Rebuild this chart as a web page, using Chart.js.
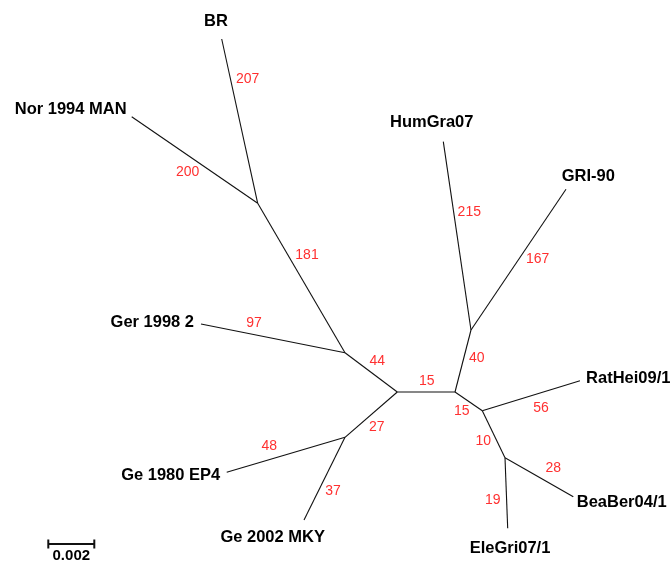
<!DOCTYPE html>
<html>
<head>
<meta charset="utf-8">
<script src="https://cdn.jsdelivr.net/npm/chart.js@4"></script>
<style>
  body { margin: 0; background: #fff; }
  canvas { display: block; }
</style>
</head>
<body>
<canvas id="arvore" width="670" height="565"></canvas>
<script>
// nodes of the unrooted tree (tips first, then internal nodes n1..n8)
let nos = ["BR", "Nor 1994 MAN", "Ger 1998 2", "Ge 1980 EP4", "Ge 2002 MKY",
           "HumGra07", "GRI-90", "RatHei09/1", "BeaBer04/1", "EleGri07/1",
           "n1", "n2", "n3", "n4", "n5", "n6", "n7", "n8"];
let noX = [221.7, 131.7, 201, 226.7, 304, 443.3, 566, 580, 573.3, 507.7,
           257.7, 345, 397.3, 455, 345, 471, 482.3, 505];
let noY = [39, 116.7, 324, 472.3, 520, 141.7, 189.3, 380.7, 496.7, 528.3,
           203.3, 352.7, 392, 392, 437.3, 330, 410.7, 457.7];

// branches and their support values
let ramoDe   = ["n1", "n1", "n1", "n2", "n2", "n3", "n3", "n5", "n5", "n4", "n6", "n6", "n4", "n7", "n7", "n8", "n8"];
let ramoPara = ["BR", "Nor 1994 MAN", "n2", "Ger 1998 2", "n3", "n4", "n5", "Ge 1980 EP4", "Ge 2002 MKY",
                "n6", "HumGra07", "GRI-90", "n7", "RatHei09/1", "n8", "BeaBer04/1", "EleGri07/1"];
let suporte  = [207, 200, 181, 97, 44, 15, 27, 48, 37, 40, 215, 167, 15, 56, 10, 28, 19];

// scale bar: 0.002 substitutions = 46 units
let escalaTexto = "0.002";
let escalaTam = 46;

// where the texts sit (layout only)
let posTaxon = [[216, 20], [70.7, 108.3], [152.3, 321.7], [170.7, 474.3], [272.7, 536],
                [431.7, 121.7], [588.3, 175], [628.3, 377.3], [621.7, 501.7], [510, 547.7]];
let posSuporte = [[247.7, 79.3], [187.7, 171.7], [307, 255], [254, 322.7], [377.3, 360.7],
                  [426.7, 380.7], [376.7, 426.7], [269.3, 446], [333, 491], [476.7, 358.3],
                  [469.3, 212.3], [537.7, 259.3], [461.7, 411], [541, 407.7], [483.3, 440.7],
                  [553.3, 468.3], [492.7, 500]];
let escalaX = 48.3, escalaY = 544;

function ponto(nome) {
    let i = nos.indexOf(nome);
    return { x: noX[i], y: noY[i] };
}

let datasets = [];
for (let i = 0; i < ramoDe.length; i++) {
    datasets.push({
        data: [ponto(ramoDe[i]), ponto(ramoPara[i])],
        showLine: true,
        borderColor: "#111",
        borderWidth: 1.1,
        pointRadius: 0
    });
}
// scale bar with its end ticks
datasets.push({
    data: [{ x: escalaX, y: escalaY }, { x: escalaX + escalaTam, y: escalaY }],
    showLine: true, borderColor: "#111", borderWidth: 2, pointRadius: 0
});
[escalaX, escalaX + escalaTam].forEach(function (x) {
    datasets.push({
        data: [{ x: x, y: escalaY - 4.5 }, { x: x, y: escalaY + 4.5 }],
        showLine: true, borderColor: "#111", borderWidth: 2, pointRadius: 0
    });
});

const rotulos = {
    id: "rotulos",
    afterDatasetsDraw(chart) {
        const ctx = chart.ctx;
        const sx = chart.scales.x, sy = chart.scales.y;
        ctx.save();
        ctx.textAlign = "center";
        ctx.textBaseline = "middle";
        ctx.fillStyle = "#000";
        ctx.font = "bold 16.5px 'Liberation Sans', Arial, sans-serif";
        for (let i = 0; i < posTaxon.length; i++) {
            ctx.fillText(nos[i], sx.getPixelForValue(posTaxon[i][0]), sy.getPixelForValue(posTaxon[i][1]) + 1);
        }
        ctx.fillStyle = "#ff3030";
        ctx.font = "14px 'Liberation Sans', Arial, sans-serif";
        for (let i = 0; i < suporte.length; i++) {
            ctx.fillText(String(suporte[i]), sx.getPixelForValue(posSuporte[i][0]), sy.getPixelForValue(posSuporte[i][1]));
        }
        ctx.fillStyle = "#000";
        ctx.font = "bold 15px 'Liberation Sans', Arial, sans-serif";
        ctx.fillText(escalaTexto, sx.getPixelForValue(escalaX + escalaTam / 2), sy.getPixelForValue(escalaY + 12));
        ctx.restore();
    }
};

new Chart(document.getElementById("arvore"), {
    type: "scatter",
    data: { datasets: datasets },
    options: {
        responsive: false,
        animation: false,
        layout: { padding: 0 },
        plugins: { legend: { display: false }, tooltip: { enabled: false } },
        scales: {
            x: { type: "linear", min: 0, max: 670, display: false },
            y: { type: "linear", min: 0, max: 565, reverse: true, display: false }
        }
    },
    plugins: [rotulos]
});
</script>
</body>
</html>
